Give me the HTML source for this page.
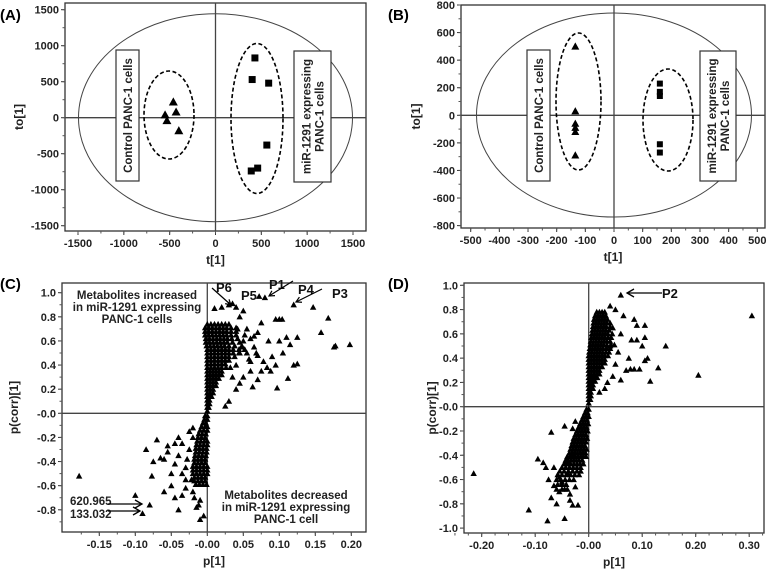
<!DOCTYPE html>
<html><head><meta charset="utf-8">
<style>
html,body{margin:0;padding:0;background:#fff;}
svg{display:block;font-family:"Liberation Sans",Arial,sans-serif;}
.tk{font-size:11px;font-weight:bold;fill:#222;}
.at{font-size:12px;font-weight:bold;fill:#222;}
.pl{font-size:15px;font-weight:bold;fill:#000;}
.an{font-size:11.5px;font-weight:bold;fill:#222;}
</style></head>
<body>
<svg id="fig" width="767" height="577" viewBox="0 0 767 577" xmlns="http://www.w3.org/2000/svg"></svg>
<script>
// ---- Panel A data ----
const aTriX=[-460,-430,-550,-530,-400];
const aTriY=[220,80,40,-40,-180];
const aSqX=[430,400,580,560,460,390];
const aSqY=[830,530,480,-380,-700,-740];
const aTicksX=[-1500,-1000,-500,0,500,1000,1500];
const aTicksY=[1500,1000,500,0,-500,-1000,-1500];
// ---- Panel B data ----
const bTriX=[-135,-135,-135,-135,-135,-135];
const bTriY=[500,30,-60,-90,-120,-290];
const bSqX=[160,160,160,160,160];
const bSqY=[230,170,140,-210,-270];
const bTicksX=[-500,-400,-300,-200,-100,0,100,200,300,400,500];
const bTicksY=[800,600,400,200,0,-200,-400,-600,-800];
// ---- Panel C data ----
const cOutX=[0.08,0.072,0.12,0.147,0.168,0.158,0.176,0.178,0.198,0.1,0.104,0.095,0.125,0.11,0.1,0.115,0.085,0.105,0.09,0.095,0.12,0.125,0.112,0.097,0.083,0.078,0.075,0.07,0.065,0.06,0.07,0.065,0.06,0.063,0.05,0.045,0.03,0.025,0.05,0.04,0.03,0.035,0.02,0.01,0.045,0.055,0.05,0.045,0.04,0.035,0.04,0.055,0.06,0.075,0.07,0.068,0.088,0.058,0.048,0.052,0.042,
 -0.178,-0.1,-0.09,-0.08,-0.085,-0.077,-0.075,-0.07,-0.065,-0.06,-0.06,-0.055,-0.05,-0.05,-0.045,-0.04,-0.035,-0.03,-0.04,-0.035,-0.025,-0.02,-0.015,-0.01,-0.005,-0.01,-0.02,-0.045,-0.04,-0.03,-0.025,-0.02,-0.055,-0.045,-0.035,-0.028,-0.03,-0.022,-0.018,-0.012];
const cOutY=[0.96,0.97,0.9,0.88,0.79,0.67,0.55,0.56,0.57,0.78,0.78,0.78,0.63,0.63,0.6,0.57,0.6,0.5,0.47,0.4,0.4,0.41,0.29,0.21,0.38,0.43,0.75,0.67,0.64,0.62,0.48,0.55,0.43,0.22,0.3,0.25,0.1,0.06,0.85,0.88,0.9,0.91,0.88,0.87,0.8,0.7,0.6,0.5,0.4,0.3,0.2,0.5,0.35,0.35,0.28,0.5,0.35,0.45,0.55,0.65,0.7,
 -0.52,-0.68,-0.83,-0.76,-0.3,-0.52,-0.4,-0.22,-0.37,-0.38,-0.65,-0.27,-0.5,-0.6,-0.7,-0.8,-0.68,-0.55,-0.2,-0.25,-0.3,-0.12,-0.78,-0.88,-0.85,-0.72,-0.65,-0.42,-0.35,-0.45,-0.15,-0.2,-0.32,-0.25,-0.5,-0.38,-0.62,-0.55,-0.7,-0.76];
const cCore="0.74:0,0.005,0.01,0.015,0.02,0.025,0.03|0.71:-0.003,0.002,0.007,0.012,0.017,0.022,0.027,0.033,0.04|0.68:-0.003,0.002,0.007,0.012,0.017,0.022,0.027,0.033,0.04|0.65:-0.003,0.002,0.007,0.012,0.017,0.022,0.027,0.033,0.04|0.62:-0.002,0.003,0.008,0.013,0.018,0.023,0.028,0.034,0.042|0.59:-0.002,0.003,0.008,0.013,0.018,0.023,0.028,0.035,0.045|0.56:-0.001,0.004,0.009,0.014,0.019,0.024,0.03,0.038,0.048|0.53:0,0.005,0.01,0.015,0.02,0.025,0.03,0.036,0.044,0.052|0.5:0,0.005,0.01,0.015,0.02,0.025,0.03,0.036,0.044|0.47:0,0.005,0.01,0.015,0.02,0.025,0.03,0.038|0.44:0,0.005,0.01,0.015,0.02,0.025,0.03|0.41:0,0.005,0.01,0.015,0.02,0.025|0.38:0,0.005,0.01,0.015,0.02,0.026,0.032|0.35:0,0.004,0.008,0.012,0.016,0.02|0.32:0,0.004,0.008,0.012,0.016,0.02|0.29:0,0.004,0.008,0.012,0.016|0.26:0,0.004,0.008,0.012|0.23:0,0.004,0.008,0.012|0.2:0,0.004,0.008|0.17:0,0.004,0.008|0.14:0,0.003,0.006|0.11:0,0.003|0.08:0,0.003|0.05:0,0.002|0.02:0|-0.02:-0.003,0|-0.05:-0.004,0|-0.08:-0.006,-0.002|-0.11:-0.008,-0.003,0|-0.14:-0.01,-0.005,0|-0.17:-0.012,-0.007,-0.002|-0.2:-0.013,-0.008,-0.003|-0.23:-0.014,-0.009,-0.004,0|-0.26:-0.015,-0.01,-0.005,0|-0.29:-0.016,-0.011,-0.006,-0.001|-0.32:-0.016,-0.011,-0.006,-0.001|-0.35:-0.017,-0.012,-0.007,-0.002|-0.38:-0.018,-0.013,-0.008,-0.003|-0.41:-0.018,-0.013,-0.008,-0.003|-0.44:-0.02,-0.015,-0.01,-0.005,0|-0.47:-0.02,-0.015,-0.01,-0.005,0|-0.5:-0.02,-0.015,-0.01,-0.005,0|-0.53:-0.018,-0.013,-0.008,-0.003|-0.56:-0.018,-0.013,-0.008,-0.003|-0.59:-0.016,-0.011,-0.006,-0.001";
const cTicksX=[-0.15,-0.10,-0.05,0,0.05,0.10,0.15,0.20];
const cTickLblX=["-0.15","-0.10","-0.05","-0.00","0.05","0.10","0.15","0.20"];
const cTicksY=[1.0,0.8,0.6,0.4,0.2,0,-0.2,-0.4,-0.6,-0.8];
const cTickLblY=["1.0","0.8","0.6","0.4","0.2","-0.0","-0.2","-0.4","-0.6","-0.8"];
// ---- Panel D data ----
const dOutX=[0.06,0.305,0.205,0.144,0.13,0.115,0.11,0.105,0.1,0.105,0.105,0.085,0.09,0.09,0.08,0.075,0.085,0.07,0.06,0.05,0.04,0.05,0.065,0.045,0.06,0.04,0.03,0.02,0.078,0.095,0.055,0.045,0.035,
 -0.215,-0.112,-0.077,-0.045,-0.095,-0.085,-0.07,-0.07,-0.075,-0.065,-0.06,-0.055,-0.05,-0.04,-0.035,-0.03,-0.02,-0.045,-0.03,-0.025,-0.04,-0.03,-0.08,-0.065,-0.055,-0.045,-0.035,-0.025];
const dOutY=[0.92,0.75,0.26,0.5,0.32,0.21,0.4,0.38,0.5,0.57,0.67,0.72,0.67,0.55,0.55,0.4,0.31,0.3,0.22,0.35,0.83,0.8,0.75,0.65,0.6,0.5,0.15,0.12,0.31,0.31,0.45,0.25,0.2,
 -0.55,-0.85,-0.94,-0.92,-0.43,-0.46,-0.21,-0.75,-0.6,-0.5,-0.8,-0.7,-0.62,-0.55,-0.77,-0.81,-0.81,-0.16,-0.18,-0.12,-0.45,-0.4,-0.5,-0.65,-0.58,-0.68,-0.72,-0.66];
const dCore="0.78:0.015,0.02,0.025,0.03|0.75:0.012,0.017,0.022,0.027,0.032|0.72:0.01,0.015,0.02,0.025,0.03,0.035|0.69:0.009,0.014,0.019,0.024,0.029,0.034,0.04|0.66:0.008,0.013,0.018,0.023,0.028,0.033,0.04|0.63:0.007,0.012,0.017,0.022,0.027,0.032,0.038|0.6:0.006,0.011,0.016,0.021,0.026,0.031,0.036,0.044|0.57:0.005,0.01,0.015,0.02,0.025,0.03,0.036,0.042|0.54:0.004,0.009,0.014,0.019,0.024,0.029,0.034,0.04|0.51:0.003,0.008,0.013,0.018,0.023,0.028,0.034,0.042,0.048|0.48:0.002,0.007,0.012,0.017,0.022,0.027,0.033,0.04|0.45:0.001,0.006,0.011,0.016,0.021,0.026,0.032,0.038|0.42:0,0.005,0.01,0.015,0.02,0.025,0.03,0.036|0.39:0,0.005,0.01,0.015,0.02,0.025,0.03|0.36:0,0.005,0.01,0.015,0.02,0.025,0.03|0.33:0,0.005,0.01,0.015,0.02,0.025|0.3:0,0.005,0.01,0.015,0.02|0.27:0,0.005,0.01,0.015,0.02|0.24:0,0.004,0.008,0.012,0.016|0.21:0,0.004,0.008,0.012|0.18:0,0.004,0.008|0.15:0,0.004,0.008|0.12:0,0.004|0.09:0,0.004|0.06:0,0.003|0.03:0|-0.02:-0.004,0|-0.05:-0.007,-0.002|-0.08:-0.01,-0.005,0|-0.11:-0.013,-0.008,-0.003|-0.14:-0.016,-0.011,-0.006,-0.001|-0.17:-0.019,-0.014,-0.009,-0.004|-0.2:-0.022,-0.017,-0.012,-0.007,-0.002|-0.23:-0.025,-0.02,-0.015,-0.01,-0.005|-0.26:-0.028,-0.023,-0.018,-0.013,-0.008,-0.003|-0.29:-0.03,-0.025,-0.02,-0.015,-0.01,-0.005|-0.32:-0.032,-0.027,-0.022,-0.017,-0.012,-0.007|-0.35:-0.034,-0.029,-0.024,-0.019,-0.014,-0.009,-0.004|-0.38:-0.036,-0.031,-0.026,-0.021,-0.016,-0.011,-0.006|-0.41:-0.04,-0.035,-0.03,-0.025,-0.02,-0.015,-0.01,-0.005|-0.44:-0.043,-0.038,-0.033,-0.028,-0.023,-0.018,-0.012|-0.47:-0.046,-0.04,-0.034,-0.028,-0.022,-0.016,-0.01|-0.5:-0.05,-0.043,-0.036,-0.029,-0.022,-0.015|-0.53:-0.054,-0.046,-0.038,-0.03,-0.022,-0.015|-0.56:-0.058,-0.05,-0.042,-0.034,-0.026,-0.018|-0.6:-0.06,-0.052,-0.044,-0.036,-0.028|-0.64:-0.058,-0.05,-0.042|-0.68:-0.06,-0.05,-0.04";
const dTicksX=[-0.2,-0.1,0,0.1,0.2,0.3];
const dTickLblX=["-0.20","-0.10","-0.00","0.10","0.20","0.30"];
const dTicksY=[1.0,0.8,0.6,0.4,0.2,0,-0.2,-0.4,-0.6,-0.8,-1.0];
const dTickLblY=["1.0","0.8","0.6","0.4","0.2","-0.0","-0.2","-0.4","-0.6","-0.8","-1.0"];

const NS="http://www.w3.org/2000/svg";
const svg=document.getElementById('fig');
function mk(tag,attrs,parent,text){const e=document.createElementNS(NS,tag);for(const k in attrs)e.setAttribute(k,attrs[k]);if(text!==undefined)e.textContent=text;(parent||svg).appendChild(e);return e;}
function lin(d0,d1,r0,r1){return v=>r0+(v-d0)*(r1-r0)/(d1-d0);}
function parseRows(s){const xs=[],ys=[];s.split('|').forEach(r=>{const [y,xl]=r.split(':');xl.split(',').forEach(x=>{xs.push(+x);ys.push(+y);});});return [xs,ys];}

function frame(g,name,box,xs,ys,tx,txl,ty,tyl,xt,yt,minorX,minorY){
  const r=mk('rect',{x:box[0],y:box[1],width:box[2]-box[0],height:box[3]-box[1],fill:'none',stroke:'#333','stroke-width':1.3},g);
  
  const ax=mk('g',{},g);
  tx.forEach((v,i)=>{const x=xs(v);mk('line',{x1:x,x2:x,y1:box[3],y2:box[3]+4,stroke:'#333'},ax);
    const t=mk('text',{x:x,y:box[3]+16,'text-anchor':'middle',class:'tk'},ax,txl[i]);
    });
  minorX.forEach(v=>{const x=xs(v);mk('line',{x1:x,x2:x,y1:box[3],y2:box[3]+2.5,stroke:'#555'},ax);});
  const ay=mk('g',{},g);
  ty.forEach((v,i)=>{const y=ys(v);mk('line',{x1:box[0]-4,x2:box[0],y1:y,y2:y,stroke:'#333'},ay);
    const t=mk('text',{x:box[0]-6,y:y+4,'text-anchor':'end',class:'tk'},ay,tyl[i]);
    });
  minorY.forEach(v=>{const y=ys(v);mk('line',{x1:box[0]-2.5,x2:box[0],y1:y,y2:y,stroke:'#555'},ay);});
  const a=mk('text',{x:(box[0]+box[2])/2,y:box[3]+33,'text-anchor':'middle',class:'at'},g,xt[0]);
  
  const b=mk('text',{x:0,y:0,transform:`translate(${yt[1]},${(box[1]+box[3])/2}) rotate(-90)`,'text-anchor':'middle',class:'at'},g,yt[0]);
  
  mk('line',{x1:xs(0),x2:xs(0),y1:box[1],y2:box[3],stroke:'#444','stroke-width':1.3},g);
  mk('line',{x1:box[0],x2:box[2],y1:ys(0),y2:ys(0),stroke:'#444','stroke-width':1.3},g);
}
function tri(g,x,y,s){return mk('polygon',{points:`${x},${y-s} ${x-s},${y+s*0.8} ${x+s},${y+s*0.8}`,fill:'#000'},g);}
function range(a,b,st){const r=[];for(let v=a;v<=b+1e-9;v+=st)r.push(+v.toFixed(4));return r;}
function box(g,name,x0,y0,x1,y1,lines){
  const b=mk('g',{},g);
  mk('rect',{x:x0,y:y0,width:x1-x0,height:y1-y0,fill:'#fff',stroke:'#333','stroke-width':1.2},b);
  const cx=(x0+x1)/2,cy=(y0+y1)/2,n=lines.length;
  lines.forEach((l,i)=>{const off=(i-(n-1)/2)*13+4.5;mk('text',{x:0,y:0,transform:`translate(${cx+off},${cy}) rotate(-90)`,'text-anchor':'middle',class:'an','xml:space':'preserve'},b,l);});
}

// ===== Panel A =====
(function(){
  const g=mk('g',{});
  const bx=[65,3,366,231];
  const xs=lin(0,1500,215.5,353), ys=lin(0,1500,117.7,9.7);
  frame(g,'panel-a',bx,xs,ys,aTicksX,aTicksX.map(String),aTicksY,aTicksY.map(String),['t[1]'],['to[1]',23],range(-1500,1500,250),range(-1500,1500,250));
  const e=mk('ellipse',{cx:xs(0),cy:ys(0),rx:137,ry:104,fill:'none',stroke:'#444'},g);
  mk('ellipse',{cx:169,cy:115,rx:25,ry:44,fill:'none',stroke:'#000','stroke-width':1.6,'stroke-dasharray':'4,2.5'},g);
  mk('ellipse',{cx:257,cy:118.5,rx:26,ry:75,fill:'none',stroke:'#000','stroke-width':1.6,'stroke-dasharray':'4,2.5'},g);
  box(g,'control-label-box',116,50,139,181,['Control PANC-1  cells']);
  box(g,'mir1291-label-box',294,51,331,182,['miR-1291  expressing','PANC-1  cells']);
  aTriX.forEach((v,i)=>{const p=tri(g,xs(v),ys(aTriY[i]),4.5);});
  aSqX.forEach((v,i)=>{const p=mk('rect',{x:xs(v)-3.5,y:ys(aSqY[i])-3.5,width:7,height:7,fill:'#000'},g);});
  const l=mk('text',{x:0,y:20,class:'pl'},g,'(A)');
})();

// ===== Panel B =====
(function(){
  const g=mk('g',{});
  const bx=[461,5,765,228];
  const xs=lin(0,500,614,757.3), ys=lin(0,800,115.3,5);
  frame(g,'panel-b',bx,xs,ys,bTicksX,bTicksX.map(String),bTicksY,bTicksY.map(String),['t[1]'],['to[1]',420],range(-500,500,50),range(-800,800,100));
  const e=mk('ellipse',{cx:xs(0),cy:115,rx:137.5,ry:102,fill:'none',stroke:'#444'},g);
  mk('ellipse',{cx:578.5,cy:101.5,rx:22.5,ry:68.5,fill:'none',stroke:'#000','stroke-width':1.6,'stroke-dasharray':'4,2.5'},g);
  mk('ellipse',{cx:668,cy:120,rx:25,ry:51,fill:'none',stroke:'#000','stroke-width':1.6,'stroke-dasharray':'4,2.5'},g);
  box(g,'control-label-box',527,50,550,181,['Control PANC-1  cells']);
  box(g,'mir1291-label-box',700,51,736,181,['miR-1291  expressing','PANC-1  cells']);
  bTriX.forEach((v,i)=>{const p=tri(g,xs(v),ys(bTriY[i]),4);});
  bSqX.forEach((v,i)=>{const p=mk('rect',{x:xs(v)-3,y:ys(bSqY[i])-3,width:6,height:6,fill:'#000'},g);});
  const l=mk('text',{x:388,y:20,class:'pl'},g,'(B)');
})();

// ===== Panel C =====
(function(){
  const g=mk('g',{});
  const bx=[62,283,366,532];
  const xs=lin(0,0.05,207.3,243.3), ys=lin(0,1,413.3,292.7);
  frame(g,'panel-c',bx,xs,ys,cTicksX,cTickLblX,cTicksY,cTickLblY,['p[1]'],['p(corr)[1]',18],range(-0.175,0.2,0.025),range(-0.9,1.0,0.1));
  const [cx,cy]=parseRows(cCore);
  const all=[...cOutX,...cx], ally=[...cOutY,...cy];
  all.forEach((v,i)=>{const p=tri(g,xs(v),ys(ally[i]),3.2);});
  const a=mk('g',{},g);
  ['Metabolites increased','in miR-1291 expressing','PANC-1 cells'].forEach((t,i)=>mk('text',{x:137,y:299+i*12,'text-anchor':'middle',class:'an'},a,t));
  ['Metabolites decreased','in miR-1291  expressing','PANC-1  cell'].forEach((t,i)=>mk('text',{x:286,y:499+i*12,'text-anchor':'middle',class:'an','xml:space':'preserve'},a,t));
  const n=mk('g',{},g);
  mk('text',{x:70,y:505,class:'an'},n,'620.965');
  mk('text',{x:70,y:518,class:'an'},n,'133.032');
  [[108,504,142,504],[108,511,140,511]].forEach(l=>{mk('line',{x1:l[0],y1:l[1],x2:l[2],y2:l[3],stroke:'#000','stroke-width':1.3},n);mk('path',{d:`M${l[2]-7},${l[3]-4} L${l[2]},${l[3]} L${l[2]-7},${l[3]+4}`,fill:'none',stroke:'#000','stroke-width':1.3},n);});
  [['P6',216,292],['P5',241,300],['P1',269,289],['P4',298,294],['P3',332,298]].forEach(p=>mk('text',{x:p[1],y:p[2],style:'font-size:13px;font-weight:bold;fill:#111'},n,p[0]));
  const arr=[[212,288,231,305],[293,281,269,296],[322,289,296,302]];
  arr.forEach(l=>{mk('line',{x1:l[0],y1:l[1],x2:l[2],y2:l[3],stroke:'#000','stroke-width':1.2},n);
    const ang=Math.atan2(l[3]-l[1],l[2]-l[0]);const h=6;
    mk('path',{d:`M${l[2]-h*Math.cos(ang-0.5)},${l[3]-h*Math.sin(ang-0.5)} L${l[2]},${l[3]} L${l[2]-h*Math.cos(ang+0.5)},${l[3]-h*Math.sin(ang+0.5)}`,fill:'none',stroke:'#000','stroke-width':1.2},n);});
  const l=mk('text',{x:0,y:289,class:'pl'},g,'(C)');
})();

// ===== Panel D =====
(function(){
  const g=mk('g',{});
  const bx=[464,283,764,533];
  const xs=lin(0,0.1,588.7,642.2), ys=lin(0,1,406.7,285.3);
  frame(g,'panel-d',bx,xs,ys,dTicksX,dTickLblX,dTicksY,dTickLblY,['p[1]'],['p(corr)[1]',436],range(-0.25,0.325,0.025),range(-1.0,1.0,0.1));
  const [cx,cy]=parseRows(dCore);
  const all=[...dOutX,...cx], ally=[...dOutY,...cy];
  all.forEach((v,i)=>{const p=tri(g,xs(v),ys(ally[i]),3.2);});
  const n=mk('g',{},g);
  mk('line',{x1:662,y1:293,x2:627,y2:293,stroke:'#000','stroke-width':1.3},n);
  mk('path',{d:'M634,289 L627,293 L634,297',fill:'none',stroke:'#000','stroke-width':1.3},n);
  mk('text',{x:662,y:298,style:'font-size:13px;font-weight:bold;fill:#111'},n,'P2');
  const l=mk('text',{x:388,y:289,class:'pl'},g,'(D)');
})();
</script>
</body></html>
